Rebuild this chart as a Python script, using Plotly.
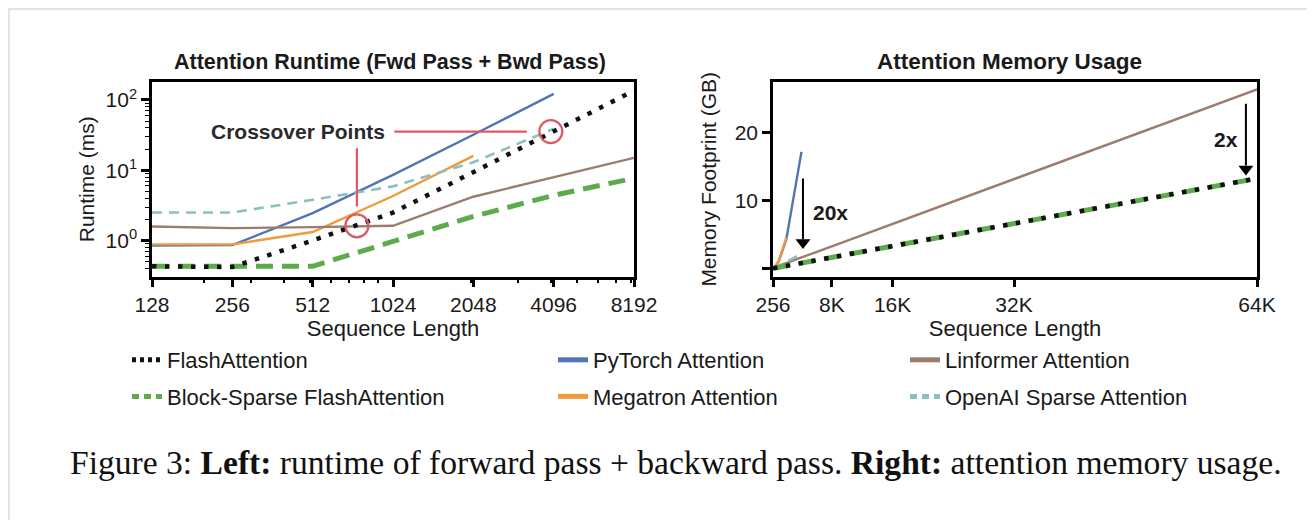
import plotly.graph_objects as go

W, H = 1315, 520
OFF = 8  # page body margin


def fx(px):
    return (px - OFF) / W


def fy(py):
    return 1 - (py - OFF) / H


# ---------------- data: runtime (left) ----------------
seq_rt = [128, 256, 512, 1024, 2048, 4096, 8192]
rt_flash = [0.43, 0.42, 1.0, 2.5, 9.4, 36, 136]
rt_blocksparse = [0.43, 0.43, 0.43, 0.97, 2.2, 4.4, 7.7]
rt_pytorch = [0.85, 0.86, 2.45, 8.6, 32, 122]
rt_megatron = [0.88, 0.88, 1.32, 4.3, 16]
rt_linformer = [1.58, 1.5, 1.55, 1.62, 4.2, 8.0, 15.0]
rt_openai = [2.5, 2.5, 3.8, 5.9, 13, 39]

# crossover annotation
cross_x = [750, 3997]
cross_y = [1.62, 35.5]
cross_vline_x = [750, 750]
cross_vline_y = [20.6, 3.05]
cross_hline_x = [1036, 3250]
cross_hline_y = [35.5, 35.5]
cross_label_x = 451
cross_label_y = 35.5

# ---------------- data: memory (right) ----------------
seq_mem = [256, 512, 1024, 2048, 4096, 8192, 16384, 32768, 65536]
mem_flash = [0.05, 0.1, 0.21, 0.42, 0.83, 1.66, 3.33, 6.65, 13.3]
mem_blocksparse = [0.05, 0.1, 0.21, 0.42, 0.83, 1.66, 3.33, 6.65, 13.3]
mem_pytorch = [0.07, 0.27, 1.07, 4.3, 17.2]
mem_megatron = [0.07, 0.29, 1.15, 4.6]
mem_linformer = [0.1, 0.2, 0.41, 0.83, 1.65, 3.3, 6.6, 13.2, 26.4]
mem_openai = [0.05, 0.15, 0.4, 1.0, 2.2]

# reduction arrows: shaft (x, y_from) and head tip y
arrow20_x, arrow20_top, arrow20_tip = 4300, 13.3, 3.35
label20_x, label20_y = 5340, 8.3
arrow2_x, arrow2_top, arrow2_tip = 64040, 24.3, 14.2
label2_x, label2_y = 63200, 19.1
arrow_head_len = 1.0  # GB, length of head triangle

x_ticks_rt = [128, 256, 512, 1024, 2048, 4096, 8192]
x_minor_rt = [200, 300, 400, 500, 600, 700, 800, 900, 2000, 3000, 4000, 5000, 6000, 7000, 8000]
y_ticks_rt = [1, 10, 100]
y_ticktext_rt = ["10<sup>0</sup>", "10<sup>1</sup>", "10<sup>2</sup>"]
y_minor_rt = [0.4, 0.5, 0.6, 0.7, 0.8, 0.9, 2, 3, 4, 5, 6, 7, 8, 9,
              20, 30, 40, 50, 60, 70, 80, 90, 200, 300]
x_ticks_mem = [256, 8192, 16384, 32768, 65536]
x_ticktext_mem = ["256", "8K", "16K", "32K", "64K"]
y_ticks_mem = [10, 20]
y_ticktext_mem = ["10", "20"]
y_unlabeled_mem = [0]

# ---------------- styles ----------------
FONT = "Liberation Sans"
TXT = "#1a1a1a"
C_BLUE = "#5274b4"
C_ORANGE = "#ef9a3d"
C_GREEN = "#5dab4c"
C_BROWN = "#9c7c6c"
C_TEAL = "#8cc0c0"
C_BLACK = "#111111"
C_RED = "#dc5a66"

series = [
    # name, group, legend, rank, color, width, dash, legend width, legend dash, runtime, memory
    ("PyTorch Attention", "pt", "legend2", 1, C_BLUE, 2.4, "solid", 5, "solid", rt_pytorch, mem_pytorch),
    ("Megatron Attention", "mg", "legend2", 2, C_ORANGE, 2.4, "solid", 5, "solid", rt_megatron, mem_megatron),
    ("Linformer Attention", "lf", "legend3", 1, C_BROWN, 2.4, "solid", 5, "solid", rt_linformer, mem_linformer),
    ("OpenAI Sparse Attention", "oa", "legend3", 2, C_TEAL, 2.6, "10px,7px", 5, "7px,5px", rt_openai, mem_openai),
    ("Block-Sparse FlashAttention", "bs", "legend", 2, C_GREEN, 5, "17px,9px", 5, "7px,5px", rt_blocksparse, mem_blocksparse),
    ("FlashAttention", "fa", "legend", 1, C_BLACK, 4.5, "4.5px,8.5px", 5, "4px,4px", rt_flash, mem_flash),
]

fig = go.Figure()

for name, grp, leg, rank, color, width, dash, lw, ldash, rt, mem in series:
    fig.add_trace(go.Scatter(
        x=seq_rt[:len(rt)], y=rt, name=name, mode="lines",
        line=dict(color=color, width=width, dash=dash),
        legendgroup=grp, legend=leg, showlegend=False,
        xaxis="x", yaxis="y"))
    fig.add_trace(go.Scatter(
        x=seq_mem[:len(mem)], y=mem, name=name, mode="lines",
        line=dict(color=color, width=width, dash=dash),
        legendgroup=grp, legend=leg, showlegend=False,
        xaxis="x2", yaxis="y2"))
    # legend key (thicker line, as in the reference legend)
    fig.add_trace(go.Scatter(
        x=[None], y=[None], name=name, mode="lines",
        line=dict(color=color, width=lw, dash=ldash),
        legendgroup=grp, legend=leg, legendrank=rank, showlegend=True,
        hoverinfo="skip", xaxis="x", yaxis="y"))

# crossover marks
fig.add_trace(go.Scatter(x=cross_vline_x, y=cross_vline_y, mode="lines",
                         line=dict(color=C_RED, width=2.3), showlegend=False,
                         hoverinfo="skip", xaxis="x", yaxis="y"))
fig.add_trace(go.Scatter(x=cross_hline_x, y=cross_hline_y, mode="lines",
                         line=dict(color=C_RED, width=2.3), showlegend=False,
                         hoverinfo="skip", xaxis="x", yaxis="y"))
fig.add_trace(go.Scatter(x=cross_x, y=cross_y, mode="markers",
                         marker=dict(symbol="circle-open", size=23,
                                     line=dict(color=C_RED, width=2.3), color=C_RED),
                         showlegend=False, hoverinfo="skip", xaxis="x", yaxis="y"))

# reduction arrows (shaft + triangular head)
for ax_x, top, tip in [(arrow20_x, arrow20_top, arrow20_tip), (arrow2_x, arrow2_top, arrow2_tip)]:
    fig.add_trace(go.Scatter(x=[ax_x, ax_x], y=[top, tip + arrow_head_len], mode="lines",
                             line=dict(color="black", width=2), showlegend=False,
                             hoverinfo="skip", xaxis="x2", yaxis="y2"))
    fig.add_trace(go.Scatter(x=[ax_x], y=[tip + arrow_head_len * 0.5], mode="markers",
                             marker=dict(symbol="triangle-down", size=13, color="black",
                                         line=dict(width=0)),
                             showlegend=False, hoverinfo="skip", xaxis="x2", yaxis="y2"))

axis_common = dict(
    showline=True, linecolor="black", linewidth=2.5, mirror=True,
    ticks="outside", ticklen=8, tickwidth=2.5, tickcolor="black",
    showgrid=False, zeroline=False,
    tickfont=dict(family=FONT, size=21, color=TXT),
)

fig.update_layout(
    width=W, height=H,
    margin=dict(l=0, r=0, t=0, b=0, autoexpand=False),
    paper_bgcolor="white", plot_bgcolor="white",
    font=dict(family=FONT, color=TXT),
    xaxis=dict(domain=[fx(152), fx(634)], anchor="y", type="log",
               range=[2.10721, 3.91339], tickmode="array", tickvals=x_ticks_rt,
               ticktext=[str(v) for v in x_ticks_rt],
               minor=dict(tickmode="array", tickvals=x_minor_rt, ticks="outside",
                          ticklen=4, tickwidth=1.5, tickcolor="black"),
               title=dict(text="Sequence Length", standoff=2,
                          font=dict(family=FONT, size=22, color=TXT)),
               **axis_common),
    yaxis=dict(domain=[fy(276.5), fy(82)], anchor="x", type="log",
               range=[-0.512, 2.256], tickmode="array", tickvals=y_ticks_rt,
               ticktext=y_ticktext_rt,
               minor=dict(tickmode="array", tickvals=y_minor_rt, ticks="outside",
                          ticklen=4, tickwidth=1.2, tickcolor="black"),
               title=dict(text="Runtime (ms)", standoff=6,
                          font=dict(family=FONT, size=21, color=TXT)),
               **axis_common),
    xaxis2=dict(domain=[fx(773), fx(1257)], anchor="y2",
                range=[256, 65536], tickmode="array", tickvals=x_ticks_mem,
                ticktext=x_ticktext_mem,
                title=dict(text="Sequence Length", standoff=2,
                           font=dict(family=FONT, size=22, color=TXT)),
                **axis_common),
    yaxis2=dict(domain=[fy(276.5), fy(82)], anchor="x2",
                range=[-1.15, 27.5], tickmode="array", tickvals=y_ticks_mem,
                ticktext=y_ticktext_mem,
                minor=dict(tickmode="array", tickvals=y_unlabeled_mem, ticks="outside",
                           ticklen=8, tickwidth=2.5, tickcolor="black"),
                title=dict(text="Memory Footprint (GB)", standoff=13,
                           font=dict(family=FONT, size=21, color=TXT)),
                **axis_common),
)

leg_common = dict(orientation="v", xanchor="left", yanchor="top",
                  bgcolor="rgba(0,0,0,0)", traceorder="grouped", tracegroupgap=5,
                  font=dict(family=FONT, size=22, color=TXT))
fig.update_layout(
    legend=dict(x=fx(127), y=fy(339), **leg_common),
    legend2=dict(x=fx(553), y=fy(339), **leg_common),
    legend3=dict(x=fx(905), y=fy(339), **leg_common),
)

# card edge shadow
fig.add_shape(type="rect", xref="paper", yref="paper",
              x0=1 / W, x1=1.05, y0=-0.05, y1=1 - 1 / H,
              fillcolor="rgba(0,0,0,0)", line=dict(color="#dadada", width=1.5), layer="below")

annotations = [
    dict(text="<b>Attention Runtime (Fwd Pass + Bwd Pass)</b>", x=fx(390), y=fy(62),
         xref="paper", yref="paper", showarrow=False, xanchor="center", yanchor="middle",
         font=dict(family=FONT, size=21.5, color=TXT)),
    dict(text="<b>Attention Memory Usage</b>", x=fx(1009), y=fy(62),
         xref="paper", yref="paper", showarrow=False, xanchor="center", yanchor="middle",
         font=dict(family=FONT, size=22.5, color=TXT)),
    dict(text="<b>Crossover Points</b>", x=2.6542, y=1.5502,
         xref="x", yref="y", showarrow=False, xanchor="center", yanchor="middle",
         font=dict(family=FONT, size=21, color="#2a2a2a")),
    dict(text="<b>20x</b>", x=label20_x, y=label20_y, xref="x2", yref="y2",
         showarrow=False, xanchor="left", yanchor="middle",
         font=dict(family=FONT, size=21, color=TXT)),
    dict(text="<b>2x</b>", x=label2_x, y=label2_y, xref="x2", yref="y2",
         showarrow=False, xanchor="right", yanchor="middle",
         font=dict(family=FONT, size=21, color=TXT)),
    dict(text="Figure 3: <b>Left:</b> runtime of forward pass + backward pass. "
              "<b>Right:</b> attention memory usage.",
         x=fx(68), y=fy(462), xref="paper", yref="paper", showarrow=False,
         xanchor="left", yanchor="middle",
         font=dict(family="Liberation Serif", size=33.6, color="#111111")),
]
fig.update_layout(annotations=annotations)

fig.write_html("out.html")
